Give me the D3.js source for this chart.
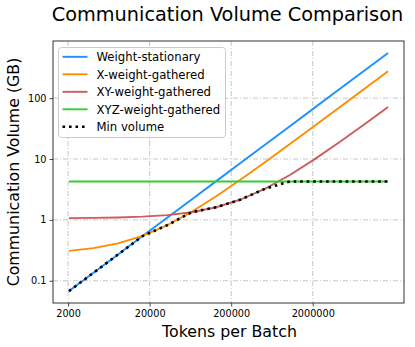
<!DOCTYPE html>
<html>
<head>
<meta charset="utf-8">
<script src="https://cdn.jsdelivr.net/npm/d3@7"></script>
<style>
  html, body { margin: 0; padding: 0; background: #fff; }
  svg { display: block; font-family: "DejaVu Sans", sans-serif; }
</style>
</head>
<body>
<svg id="chart" width="415" height="347"></svg>
<script>
// ---- data ----
const tokens = [2048, 4096, 8192, 16384, 32768, 65536, 131072, 262144, 524288,
                1048576, 2097152, 4194304, 8388608, 16777216];
const weightStationary = [0.0676, 0.135, 0.270, 0.541, 1.081, 2.16, 4.33, 8.65, 17.3,
                          34.6, 69.2, 138.4, 276.8, 553.6];
const xWeightGathered = [0.310, 0.344, 0.411, 0.546, 0.817, 1.357, 2.439, 4.601, 8.93,
                         17.58, 34.88, 69.48, 138.7, 277.1];
const xyWeightGathered = [1.069, 1.077, 1.094, 1.129, 1.198, 1.335, 1.611, 2.161, 3.262,
                          5.464, 9.868, 18.68, 36.29, 71.52];
const xyzWeightGathered = [4.28, 4.28, 4.28, 4.28, 4.28, 4.28, 4.28, 4.28, 4.28,
                           4.28, 4.28, 4.28, 4.28, 4.28];
const minVolume = [0.0676, 0.135, 0.270, 0.541, 0.817, 1.335, 1.611, 2.161, 3.262,
                   4.28, 4.28, 4.28, 4.28, 4.28];
const xTicks = [2000, 20000, 200000, 2000000];
const xTickLabels = ["2000", "20000", "200000", "2000000"];
const yTicks = [0.1, 1, 10, 100];
const yTickLabels = ["0.1", "1", "10", "100"];
const seriesNames = ["Weight-stationary", "X-weight-gathered", "XY-weight-gathered",
                     "XYZ-weight-gathered", "Min volume"];
const seriesColors = ["#1e90ff", "#ff8c00", "#cd5c5c", "#32cd32", "#000000"];

const series = [
  { name: seriesNames[0], values: weightStationary, color: seriesColors[0], dotted: false },
  { name: seriesNames[1], values: xWeightGathered, color: seriesColors[1], dotted: false },
  { name: seriesNames[2], values: xyWeightGathered, color: seriesColors[2], dotted: false },
  { name: seriesNames[3], values: xyzWeightGathered, color: seriesColors[3], dotted: false },
  { name: seriesNames[4], values: minVolume, color: seriesColors[4], dotted: true }
];

// ---- layout ----
const svg = d3.select("#chart");
const pLeft = 53, pRight = 404, pTop = 41, pBottom = 303;

function logDomain(vals) {
  const lo = Math.log10(d3.min(vals)), hi = Math.log10(d3.max(vals));
  const m = (hi - lo) * 0.05;
  return [Math.pow(10, lo - m), Math.pow(10, hi + m)];
}
const allY = series.flatMap(s => s.values);
const x = d3.scaleLog().domain(logDomain(tokens)).range([pLeft, pRight]);
const y = d3.scaleLog().domain(logDomain(allY)).range([pBottom, pTop]);

// grid
const gridColor = "#b8b8b8";
const grid = svg.append("g");
xTicks.forEach(t => {
  grid.append("line").attr("x1", x(t)).attr("x2", x(t)).attr("y1", pTop).attr("y2", pBottom)
    .attr("stroke", gridColor).attr("stroke-width", 0.8).attr("stroke-dasharray", "5,2,1,2");
});
yTicks.forEach(t => {
  grid.append("line").attr("x1", pLeft).attr("x2", pRight).attr("y1", y(t)).attr("y2", y(t))
    .attr("stroke", gridColor).attr("stroke-width", 0.8).attr("stroke-dasharray", "5,2,1,2");
});

// axes
const xAxis = d3.axisBottom(x).tickValues(xTicks)
  .tickFormat((d, i) => xTickLabels[i]).tickSize(3.5).tickPadding(3.5);
const yAxis = d3.axisLeft(y).tickValues(yTicks)
  .tickFormat((d, i) => yTickLabels[i]).tickSize(3.5).tickPadding(3);

const gx = svg.append("g").attr("transform", `translate(0,${pBottom})`).call(xAxis);
const gy = svg.append("g").attr("transform", `translate(${pLeft},0)`).call(yAxis);
[gx, gy].forEach(g => {
  g.select(".domain").remove();
  g.selectAll(".tick line").attr("stroke", "#333").attr("stroke-width", 0.9);
  g.selectAll(".tick text").attr("fill", "#000")
    .style("font-family", "DejaVu Sans").style("font-size", "9.7px");
});

// lines
const line = d3.line().x((d, i) => x(tokens[i])).y(d => y(d));
const plot = svg.append("g");
series.forEach(s => {
  const p = plot.append("path").datum(s.values).attr("d", line)
    .attr("fill", "none").attr("stroke", s.color);
  if (s.dotted) {
    p.attr("stroke-width", 2.6).attr("stroke-dasharray", "2.6,3.9").attr("stroke-linecap", "butt");
  } else {
    p.attr("stroke-width", 1.9).attr("stroke-linejoin", "round");
  }
});

// frame
svg.append("rect").attr("x", pLeft).attr("y", pTop)
  .attr("width", pRight - pLeft).attr("height", pBottom - pTop)
  .attr("fill", "none").attr("stroke", "#333").attr("stroke-width", 1);

// legend
const lg = svg.append("g");
lg.append("rect").attr("x", 58.5).attr("y", 47.5).attr("width", 167).attr("height", 90)
  .attr("rx", 3).attr("fill", "#fff").attr("fill-opacity", 0.8)
  .attr("stroke", "#cccccc").attr("stroke-width", 1);
series.forEach((s, i) => {
  const cy = 56.8 + i * 17.5;
  const l = lg.append("line").attr("x1", 62.5).attr("x2", 87.5).attr("y1", cy).attr("y2", cy)
    .attr("stroke", s.color);
  if (s.dotted) l.attr("stroke-width", 2.6).attr("stroke-dasharray", "2.6,3.9");
  else l.attr("stroke-width", 1.9);
  lg.append("text").attr("x", 96.5).attr("y", cy).attr("dy", "0.36em")
    .style("font-size", "11.7px").attr("fill", "#000").text(s.name);
});

// titles
svg.append("text").attr("x", (pLeft + pRight) / 2 - 1).attr("y", 20.5)
  .attr("text-anchor", "middle").style("font-size", "19.3px").attr("fill", "#000")
  .text("Communication Volume Comparison");
svg.append("text").attr("x", (pLeft + pRight) / 2 + 1).attr("y", 336.5)
  .attr("text-anchor", "middle").style("font-size", "15.8px").attr("fill", "#000")
  .text("Tokens per Batch");
svg.append("text").attr("transform", `translate(19,${(pTop + pBottom) / 2}) rotate(-90)`)
  .attr("text-anchor", "middle").style("font-size", "15.8px").attr("fill", "#000")
  .text("Communication Volume (GB)");
</script>
</body>
</html>
